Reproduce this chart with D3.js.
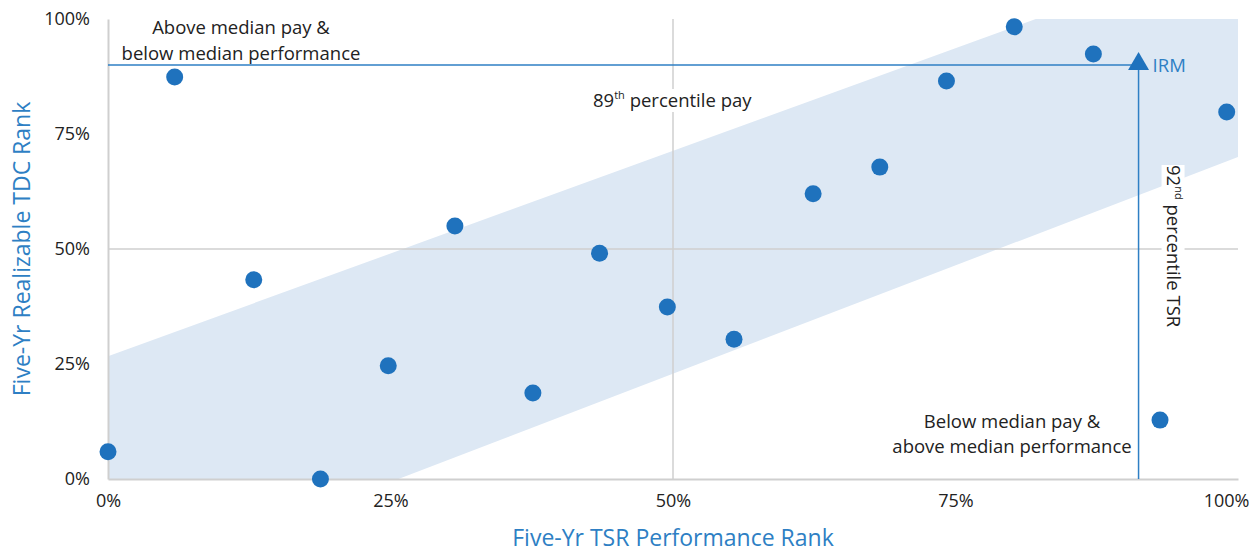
<!DOCTYPE html>
<html lang="en">
<head>
<meta charset="UTF-8">
<title>Pay vs Performance</title>
<script src="https://d3js.org/d3.v7.min.js"></script>
<style>
    body { margin: 0; background: #fff; }
    svg text { font-family: "Open Sans", sans-serif; fill: #222; }
    .tick text { font-size: 18px; }
    .axis-title { fill: #2e7fc4 !important; font-size: 23px; }
    .note { font-size: 18.5px; }
</style>
</head>
<body>
<svg id="chart" width="1253" height="552"></svg>
<script>
    // peer companies: TSR rank (x) and realizable TDC rank (y)
    let peerTsr = [0, 0.059, 0.129, 0.188, 0.248, 0.307, 0.376, 0.435, 0.495, 0.554, 0.624, 0.683, 0.742, 0.802, 0.872, 0.931, 0.990]
    let peerPay = [0.059, 0.874, 0.433, 0, 0.246, 0.550, 0.187, 0.491, 0.374, 0.304, 0.620, 0.678, 0.865, 0.983, 0.924, 0.128, 0.798]

    // alignment band outline
    let bandX = [0, 0.821, 1, 1, 0.257, 0]
    let bandY = [0.267, 1, 1, 0.70, 0, 0]

    let irm = {name: 'IRM', tsr: 0.912, pay: 0.90}
    let ticks = [0, 0.25, 0.5, 0.75, 1]

    let svg = d3.select('#chart')
    let margin = {left: 108, right: 15, top: 19, bottom: 73}
    let W = 1253, H = 552

    let x = d3.scaleLinear().domain([0, 1]).range([margin.left, W - margin.right])
    let y = d3.scaleLinear().domain([0, 1]).range([H - margin.bottom, margin.top])
    let pct = d3.format('.0%')

    // band
    svg.append('path')
        .datum(d3.zip(bandX, bandY))
        .attr('d', d3.line().x(d => x(d[0])).y(d => y(d[1])))
        .attr('fill', '#dde8f4')

    // gridlines at the median
    svg.append('line')
        .attr('x1', x(0)).attr('x2', x(1)).attr('y1', y(0.5)).attr('y2', y(0.5))
        .attr('stroke', '#cfcfcf').attr('stroke-width', 1.5)
    svg.append('line')
        .attr('x1', x(0.5)).attr('x2', x(0.5)).attr('y1', y(0)).attr('y2', y(1))
        .attr('stroke', '#cfcfcf').attr('stroke-width', 1.5)

    // axes
    let xAxis = svg.append('g')
        .attr('transform', `translate(0,${y(0)})`)
        .call(d3.axisBottom(x).tickValues(ticks).tickFormat(pct).tickSize(0).tickPadding(15))
    xAxis.select('.domain').attr('stroke', '#cfcfcf').attr('stroke-width', 2)
    xAxis.selectAll('.tick').filter(d => d === 1).select('text').attr('dx', -12)

    let yAxis = svg.append('g')
        .attr('transform', `translate(${x(0)},0)`)
        .call(d3.axisLeft(y).tickValues(ticks).tickFormat(pct).tickSize(0).tickPadding(18))
    yAxis.select('.domain').attr('stroke', '#cfcfcf').attr('stroke-width', 2)

    // IRM reference lines
    svg.append('line')
        .attr('x1', x(0)).attr('x2', x(irm.tsr)).attr('y1', y(irm.pay)).attr('y2', y(irm.pay))
        .attr('stroke', '#2e7fc4').attr('stroke-width', 1.5)
    svg.append('line')
        .attr('x1', x(irm.tsr)).attr('x2', x(irm.tsr)).attr('y1', y(irm.pay)).attr('y2', y(0))
        .attr('stroke', '#2e7fc4').attr('stroke-width', 1.5)

    // 89th percentile pay label
    let payG = svg.append('g')
    let payBg = payG.append('rect').attr('fill', '#fff')
    let payLbl = payG.append('text')
        .attr('class', 'note')
        .attr('x', 593).attr('y', 107)
    payLbl.append('tspan').text('89')
    payLbl.append('tspan').attr('font-size', 11).attr('dy', -8).text('th')
    payLbl.append('tspan').attr('dy', 8).text(' percentile pay')
    let bb = payLbl.node().getBBox()
    payBg.attr('x', bb.x).attr('y', bb.y + 2).attr('width', bb.width).attr('height', bb.height - 2)

    // 92nd percentile TSR label (rotated)
    let tsrG = svg.append('g').attr('transform', `translate(${x(irm.tsr) + 28},165) rotate(90)`)
    let tsrBg = tsrG.append('rect').attr('fill', '#fff')
    let tsrLbl = tsrG.append('text').attr('class', 'note').attr('x', 0).attr('y', 0)
    tsrLbl.append('tspan').text('92')
    tsrLbl.append('tspan').attr('font-size', 11).attr('dy', -8).text('nd')
    tsrLbl.append('tspan').attr('dy', 8).text(' percentile TSR')
    let tb = tsrLbl.node().getBBox()
    tsrBg.attr('x', tb.x).attr('y', tb.y + 2).attr('width', tb.width).attr('height', tb.height - 2)

    // peers
    svg.append('g').selectAll('circle')
        .data(d3.zip(peerTsr, peerPay))
        .join('circle')
        .attr('cx', d => x(d[0]))
        .attr('cy', d => y(d[1]))
        .attr('r', 8.5)
        .attr('fill', '#1f72bd')

    // IRM marker
    svg.append('path')
        .attr('d', d3.symbol().type(d3.symbolTriangle).size(190))
        .attr('transform', `translate(${x(irm.tsr)},${y(irm.pay) - 1})`)
        .attr('fill', '#1f72bd')
    svg.append('text')
        .attr('x', x(irm.tsr) + 14).attr('y', y(irm.pay) + 7)
        .attr('class', 'note').style('fill', '#2e7fc4')
        .text(irm.name)

    // quadrant notes
    svg.append('text').attr('class', 'note').attr('x', 241).attr('y', 34)
        .attr('text-anchor', 'middle').text('Above median pay &')
    svg.append('text').attr('class', 'note').attr('x', 241).attr('y', 60)
        .attr('text-anchor', 'middle').text('below median performance')
    svg.append('text').attr('class', 'note').attr('x', 1012).attr('y', 428)
        .attr('text-anchor', 'middle').text('Below median pay &')
    svg.append('text').attr('class', 'note').attr('x', 1012).attr('y', 453)
        .attr('text-anchor', 'middle').text('above median performance')

    // axis titles
    svg.append('text').attr('class', 'axis-title')
        .attr('x', x(0.5)).attr('y', 546).attr('text-anchor', 'middle')
        .text('Five-Yr TSR Performance Rank')
    svg.append('text').attr('class', 'axis-title')
        .attr('transform', `translate(30,${y(0.5)}) rotate(-90)`)
        .attr('text-anchor', 'middle')
        .text('Five-Yr Realizable TDC Rank')
</script>
</body>
</html>
